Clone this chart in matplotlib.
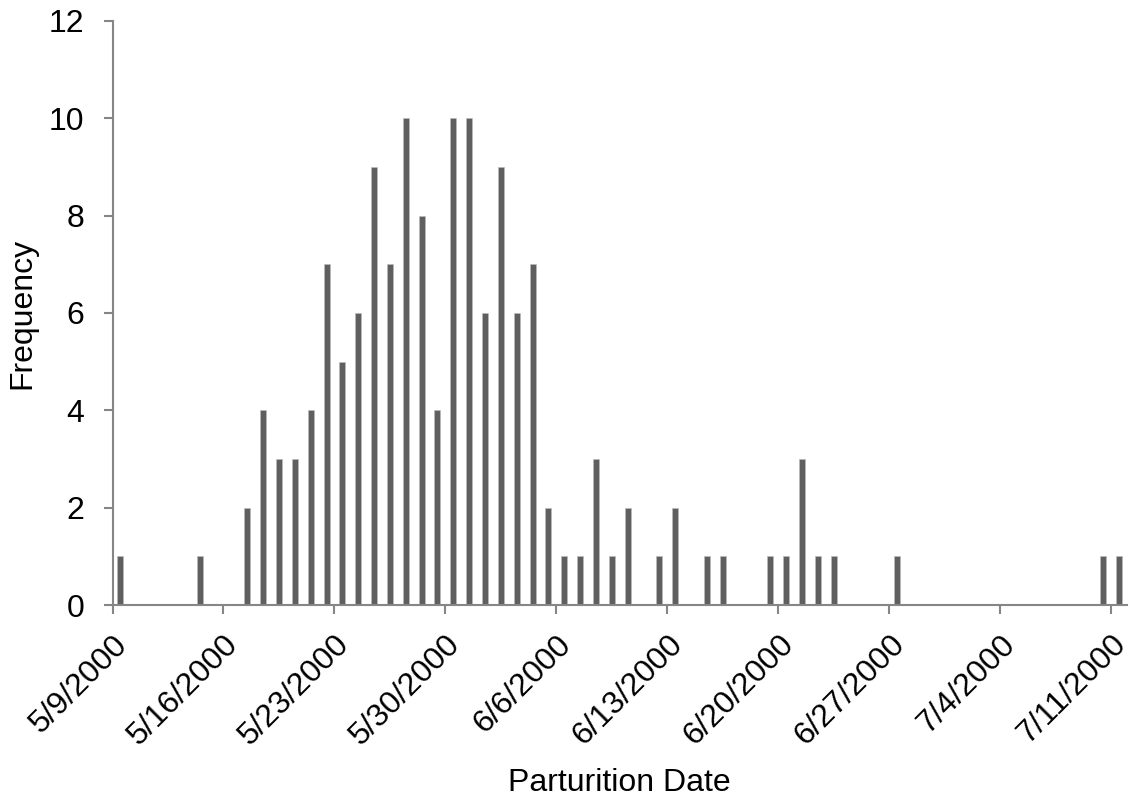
import pandas as pd
import numpy as np
import matplotlib
matplotlib.use('Agg')
import matplotlib.pyplot as plt
import matplotlib.dates as mdates
from matplotlib.ticker import FuncFormatter

plt.rcParams['font.family'] = ['Liberation Sans', 'DejaVu Sans']

# parturition dates and counts
dates = ['2000-05-09', '2000-05-14',
         '2000-05-17', '2000-05-18', '2000-05-19', '2000-05-20', '2000-05-21',
         '2000-05-22', '2000-05-23', '2000-05-24', '2000-05-25', '2000-05-26',
         '2000-05-27', '2000-05-28', '2000-05-29', '2000-05-30', '2000-05-31',
         '2000-06-01', '2000-06-02', '2000-06-03', '2000-06-04', '2000-06-05',
         '2000-06-06', '2000-06-07', '2000-06-08', '2000-06-09', '2000-06-10',
         '2000-06-12', '2000-06-13', '2000-06-15', '2000-06-16', '2000-06-19',
         '2000-06-20', '2000-06-21', '2000-06-22', '2000-06-23', '2000-06-27',
         '2000-07-10', '2000-07-11']
counts = [1, 1,
          2, 4, 3, 3, 4,
          7, 5, 6, 9, 7,
          10, 8, 4, 10, 10,
          6, 9, 6, 7, 2,
          1, 1, 3, 1, 2,
          1, 2, 1, 1, 1,
          1, 3, 1, 1, 1,
          1, 1]
tick_dates = pd.date_range('2000-05-09', '2000-07-11', freq='7D')

d = pd.to_datetime(dates)
x = mdates.date2num(d) + 0.5

fig = plt.figure(figsize=(11.32, 7.97), dpi=100)
ax = fig.add_axes([0.0994, 0.2409, 0.8962, 0.7328])

ax.bar(x, counts, width=0.38, color='#5f5f5f', edgecolor='#bdbdbd', linewidth=0.4)

ax.set_xlim(mdates.date2num(pd.Timestamp('2000-05-09')), mdates.date2num(pd.Timestamp('2000-07-12')))
ax.set_ylim(0, 12)
ax.set_yticks(np.arange(0, 13, 2))
ax.set_xticks(mdates.date2num(tick_dates))
ax.xaxis.set_major_formatter(FuncFormatter(
    lambda v, p: '{}/{}/{}'.format(mdates.num2date(v).month, mdates.num2date(v).day, mdates.num2date(v).year)))

for s in ['top', 'right']:
    ax.spines[s].set_visible(False)
for s in ['left', 'bottom']:
    ax.spines[s].set_color('#868686')
    ax.spines[s].set_linewidth(1.5)

ax.tick_params(axis='both', colors='#868686', width=1.5, length=6.5, labelcolor='black', labelsize=23)
ax.tick_params(axis='x', pad=11)
ax.tick_params(axis='y', pad=14)
plt.setp(ax.get_xticklabels(), rotation=45, ha='right', rotation_mode='anchor')

ax.set_xlabel('Parturition Date', fontsize=23, labelpad=12)
ax.set_ylabel('Frequency', fontsize=23, labelpad=8)

fig.savefig('out.png', dpi=100)
